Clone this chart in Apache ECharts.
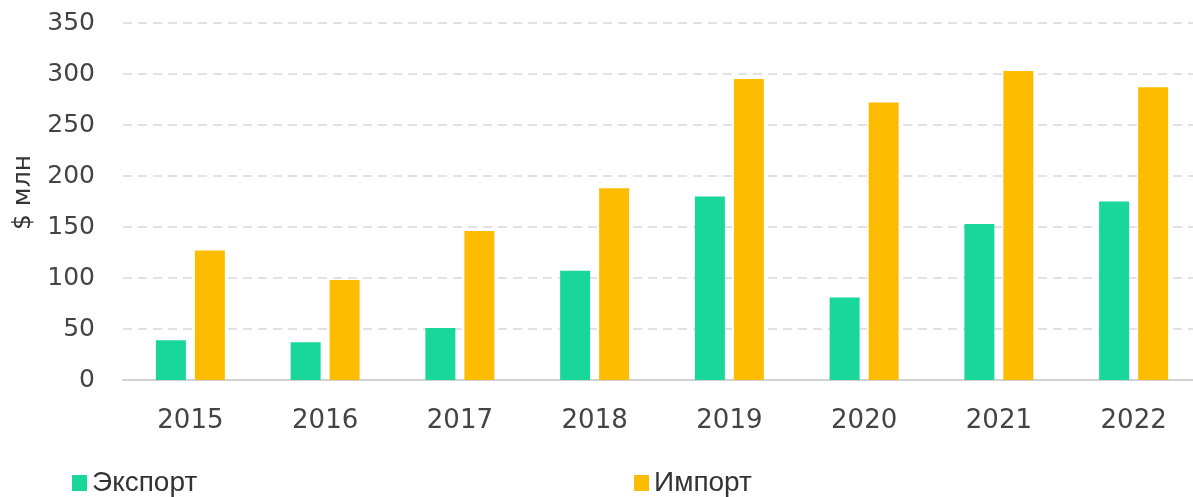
<!DOCTYPE html>
<html>
<head>
<meta charset="utf-8">
<script src="https://cdn.jsdelivr.net/npm/echarts@6/dist/echarts.min.js"></script>
<style>
  html, body { margin: 0; padding: 0; background: #fff; }
  #chart { width: 1193px; height: 497px; }
</style>
</head>
<body>
<div id="chart"></div>
<script>
// данные
const years = ['2015', '2016', '2017', '2018', '2019', '2020', '2021', '2022'];
const exportVals = [39, 37, 51, 107, 180, 81, 153, 175];
const importVals = [127, 98, 146, 188, 295, 272, 303, 287];

const FONT = 'DejaVu Sans';
const LEGEND_FONT = 'Liberation Sans';

const chart = echarts.init(document.getElementById('chart'));
chart.setOption({
    animation: false,
    textStyle: { fontFamily: FONT },
    grid: { left: 123, top: 23, width: 1078, bottom: 117, outerBoundsMode: 'none' },
    legend: [
        {
            data: ['Экспорт'],
            left: 67, top: 464,
            icon: 'rect', itemWidth: 15, itemHeight: 16, itemGap: 5,
            textStyle: { fontSize: 28, color: '#333', fontFamily: LEGEND_FONT }
        },
        {
            data: ['Импорт'],
            left: 629, top: 464,
            icon: 'rect', itemWidth: 15, itemHeight: 16, itemGap: 5,
            textStyle: { fontSize: 28, color: '#333', fontFamily: LEGEND_FONT }
        }
    ],
    xAxis: {
        type: 'category',
        data: years,
        axisLine: { lineStyle: { color: '#d2d2d2', width: 2 } },
        axisTick: { show: false },
        axisLabel: { fontSize: 26, color: '#444', margin: 28 }
    },
    yAxis: {
        type: 'value',
        min: 0, max: 350, interval: 50,
        name: '$ млн',
        nameLocation: 'middle',
        nameRotate: 90,
        nameGap: 86,
        nameTextStyle: { fontSize: 25, color: '#333', padding: [0, 0, 0, 18] },
        axisLabel: { fontSize: 25, color: '#444', margin: 28 },
        splitLine: { lineStyle: { type: [9, 6], color: '#d9d9d9', width: 1.5 } }
    },
    series: [
        {
            name: 'Экспорт',
            type: 'bar',
            data: exportVals,
            barWidth: 30,
            barGap: '30%',
            itemStyle: { color: '#19d69b' }
        },
        {
            name: 'Импорт',
            type: 'bar',
            data: importVals,
            barWidth: 30,
            itemStyle: { color: '#febc00' }
        }
    ]
});
</script>
</body>
</html>
